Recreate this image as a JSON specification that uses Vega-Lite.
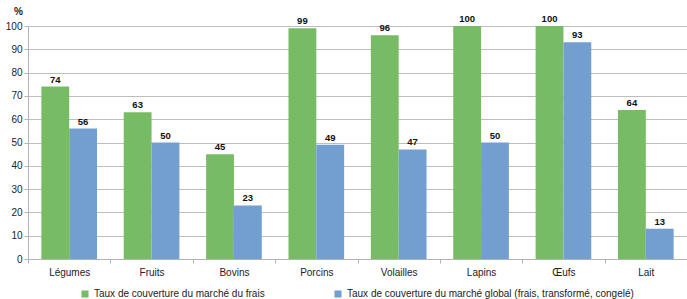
{
  "$schema": "https://vega.github.io/schema/vega-lite/v6.json",
  "width": 659,
  "height": 233,
  "autosize": {"type": "none"},
  "padding": {"left": 28, "top": 26, "right": 0, "bottom": 40},
  "background": "white",
  "config": {
    "font": "Liberation Sans",
    "view": {"stroke": null}
  },
  "data": {
    "values": [
      {"cat": "Légumes", "serie": "Taux de couverture du marché du frais", "v": 74},
      {"cat": "Légumes", "serie": "Taux de couverture du marché global (frais, transformé, congelé)", "v": 56},
      {"cat": "Fruits", "serie": "Taux de couverture du marché du frais", "v": 63},
      {"cat": "Fruits", "serie": "Taux de couverture du marché global (frais, transformé, congelé)", "v": 50},
      {"cat": "Bovins", "serie": "Taux de couverture du marché du frais", "v": 45},
      {"cat": "Bovins", "serie": "Taux de couverture du marché global (frais, transformé, congelé)", "v": 23},
      {"cat": "Porcins", "serie": "Taux de couverture du marché du frais", "v": 99},
      {"cat": "Porcins", "serie": "Taux de couverture du marché global (frais, transformé, congelé)", "v": 49},
      {"cat": "Volailles", "serie": "Taux de couverture du marché du frais", "v": 96},
      {"cat": "Volailles", "serie": "Taux de couverture du marché global (frais, transformé, congelé)", "v": 47},
      {"cat": "Lapins", "serie": "Taux de couverture du marché du frais", "v": 100},
      {"cat": "Lapins", "serie": "Taux de couverture du marché global (frais, transformé, congelé)", "v": 50},
      {"cat": "Œufs", "serie": "Taux de couverture du marché du frais", "v": 100},
      {"cat": "Œufs", "serie": "Taux de couverture du marché global (frais, transformé, congelé)", "v": 93},
      {"cat": "Lait", "serie": "Taux de couverture du marché du frais", "v": 64},
      {"cat": "Lait", "serie": "Taux de couverture du marché global (frais, transformé, congelé)", "v": 13}
    ]
  },
  "encoding": {
    "x": {
      "field": "cat", "type": "nominal", "sort": null,
      "scale": {"paddingInner": 0, "paddingOuter": 0},
      "axis": {
        "title": null, "labelAngle": 0, "labelFontSize": 10, "labelColor": "#222",
        "tickBand": "extent", "tickColor": "#b3b3b3", "tickSize": 4,
        "domainColor": "#b3b3b3", "labelPadding": 4, "grid": false
      }
    },
    "xOffset": {"field": "serie", "type": "nominal", "scale": {"paddingOuter": 0.48, "paddingInner": 0}},
    "y": {
      "field": "v", "type": "quantitative",
      "scale": {"domain": [0, 100]},
      "axis": {
        "title": "%", "titleAngle": 0, "titleX": -10, "titleY": -10, "titleFontSize": 10,
        "titleFontWeight": "bold", "titleColor": "#222",
        "values": [0, 10, 20, 30, 40, 50, 60, 70, 80, 90, 100],
        "labelFontSize": 10, "labelColor": "#222", "tickColor": "#b3b3b3", "tickSize": 4,
        "domainColor": "#b3b3b3", "gridColor": "#bdbdbd", "labelPadding": 2
      }
    }
  },
  "layer": [
    {
      "mark": {"type": "bar"},
      "encoding": {
        "color": {
          "field": "serie", "type": "nominal",
          "scale": {"range": ["#77bc65", "#729fcf"]},
          "legend": {
            "title": null, "orient": "none", "direction": "horizontal",
            "legendX": 52, "legendY": 263, "symbolType": "square", "symbolSize": 50,
            "symbolStrokeWidth": 0, "labelFontSize": 10, "labelColor": "#222",
            "labelLimit": 400, "columnPadding": 68, "symbolOffset": 0
          }
        }
      }
    },
    {
      "mark": {"type": "text", "dy": -7, "fontWeight": "bold", "fontSize": 9.5, "color": "#111"},
      "encoding": {
        "text": {"field": "v", "type": "quantitative"}
      }
    }
  ]
}
